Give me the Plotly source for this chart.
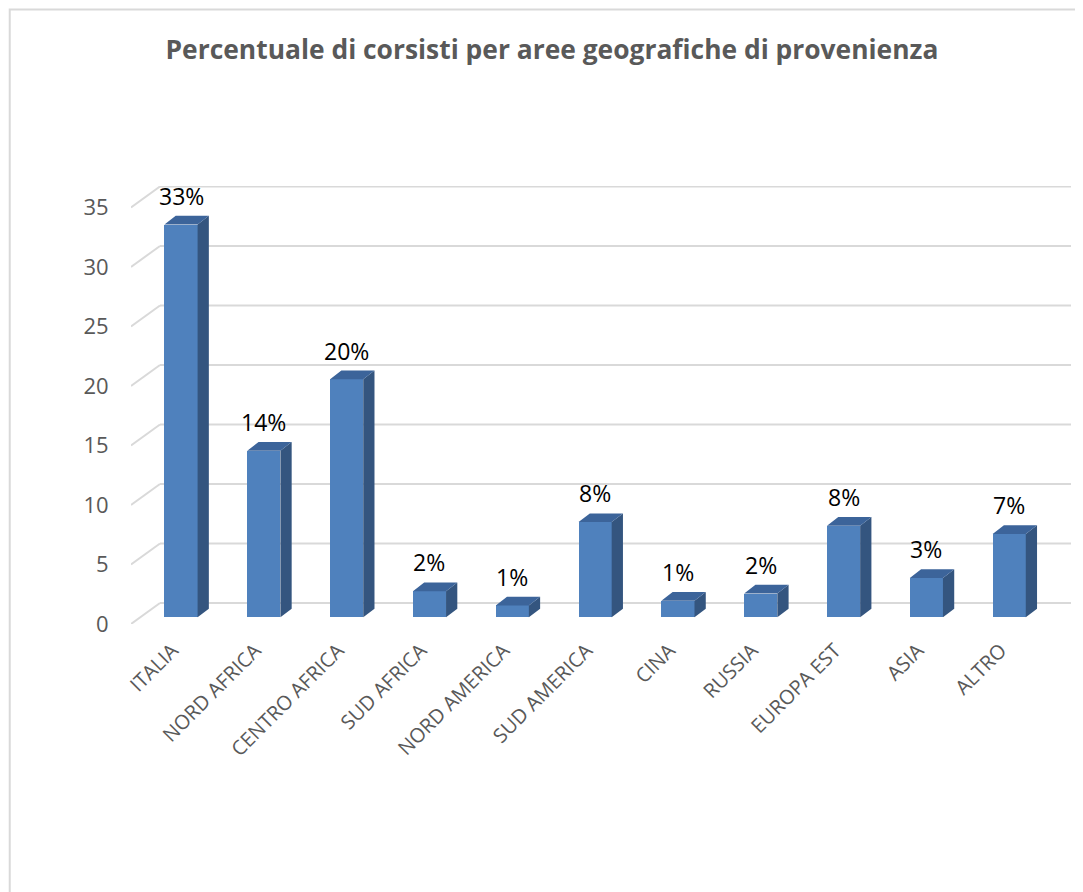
import plotly.graph_objects as go

# ---- data ----
categories = ["ITALIA", "NORD AFRICA", "CENTRO AFRICA", "SUD AFRICA", "NORD AMERICA",
              "SUD AMERICA", "CINA", "RUSSIA", "EUROPA EST", "ASIA", "ALTRO"]
values = [33.0, 14.0, 20.0, 2.2, 1.0, 8.0, 1.4, 2.0, 7.7, 3.3, 7.0]
labels = ["33%", "14%", "20%", "2%", "1%", "8%", "1%", "2%", "8%", "3%", "7%"]
y_ticks = [0, 5, 10, 15, 20, 25, 30, 35]

# ---- 3D look parameters (in axis units) ----
DX, DY = 0.35, 1.76        # full depth of the floor / back wall
BX, BY = 0.104, 0.56       # offset of the bar front face
BW = 0.40                  # bar width
BDX, BDY = 0.136, 0.73     # bar depth

FRONT = "#4F81BD"
SIDE = "#34557F"
TOP = "#3C649A"
GRID = "#D9D9D9"
TXT = "#595959"

xs = [i + BX for i in range(len(categories))]

fig = go.Figure()

# front faces
fig.add_trace(go.Bar(x=xs, y=values, base=[BY] * len(values), width=BW,
                     marker=dict(color=FRONT, line=dict(width=0)),
                     hoverinfo="skip", showlegend=False))

# side faces
sx, sy = [], []
for x, v in zip(xs, values):
    xr = x + BW / 2
    sx += [xr, xr + BDX, xr + BDX, xr, xr, None]
    sy += [BY, BY + BDY, BY + v + BDY, BY + v, BY, None]
fig.add_trace(go.Scatter(x=sx, y=sy, mode="lines", fill="toself", fillcolor=SIDE,
                         line=dict(width=0, color=SIDE), hoverinfo="skip", showlegend=False))

# top faces
tx, ty = [], []
for x, v in zip(xs, values):
    xl, xr = x - BW / 2, x + BW / 2
    t = BY + v
    tx += [xl, xl + BDX, xr + BDX, xr, xl, None]
    ty += [t, t + BDY, t + BDY, t, t, None]
fig.add_trace(go.Scatter(x=tx, y=ty, mode="lines", fill="toself", fillcolor=TOP,
                         line=dict(width=0, color=TOP), hoverinfo="skip", showlegend=False))

x_left = -0.5
x_right = len(categories) - 0.5 + DX

# gridlines on back wall + diagonal on side wall
shapes = []
for v in y_ticks:
    shapes.append(dict(type="line", xref="x", yref="y", layer="below",
                       x0=x_left + DX, x1=x_right, y0=v + DY, y1=v + DY,
                       line=dict(color=GRID, width=2)))
    shapes.append(dict(type="line", xref="x", yref="y", layer="below",
                       x0=x_left, x1=x_left + DX, y0=v, y1=v + DY,
                       line=dict(color=GRID, width=2)))
# outer chart border
shapes.append(dict(type="rect", xref="paper", yref="paper", layer="below",
                   x0=-0.129, x1=1.05, y0=-0.7, y1=1.403,
                   line=dict(color=GRID, width=2), fillcolor="rgba(0,0,0,0)"))

annotations = []
for x, v, lab in zip(xs, values, labels):
    annotations.append(dict(x=x, y=BY + v + BDY, xref="x", yref="y", text=lab,
                            showarrow=False, yanchor="bottom", yshift=2,
                            font=dict(family="Open Sans", size=23, color="#000000")))

fig.update_layout(
    width=1075, height=884,
    margin=dict(l=123, r=12, t=178, b=268),
    paper_bgcolor="white", plot_bgcolor="rgba(0,0,0,0)",
    title=dict(text="<b>Percentuale di corsisti per aree geografiche di provenienza</b>",
               x=0.506, xanchor="center", y=0.9525, yanchor="middle",
               font=dict(family="Open Sans", size=26.4, color=TXT)),
    shapes=shapes, annotations=annotations,
    bargap=0,
)
fig.update_xaxes(range=[x_left, x_right], tickvals=list(range(len(categories))),
                 ticktext=categories, tickangle=-45, showgrid=False, zeroline=False,
                 showline=False, ticks="outside", ticklen=6, tickcolor="rgba(0,0,0,0)",
                 tickfont=dict(family="Open Sans", size=20, color=TXT), fixedrange=True)
fig.update_yaxes(range=[0, 36.8], tickvals=y_ticks, showgrid=False, zeroline=False,
                 showline=False, ticks="outside", ticklen=17, tickcolor="rgba(0,0,0,0)",
                 tickfont=dict(family="Open Sans", size=22, color=TXT), fixedrange=True)

fig.write_html("out.html")
